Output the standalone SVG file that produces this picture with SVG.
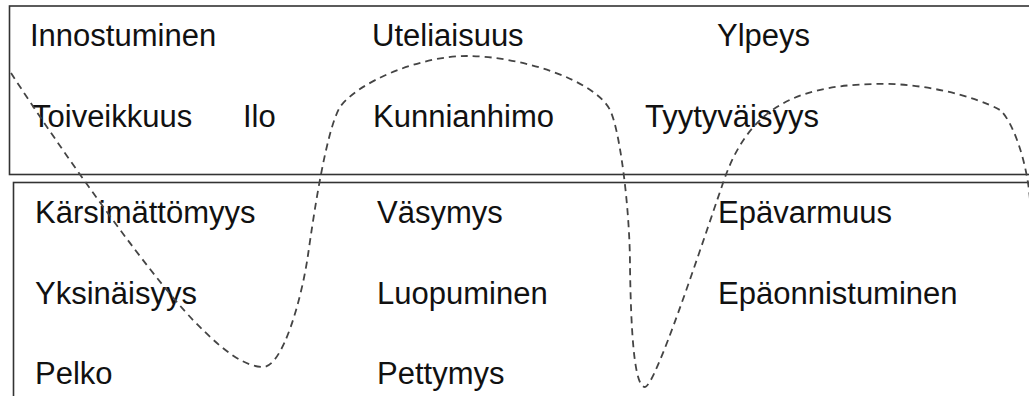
<svg xmlns="http://www.w3.org/2000/svg" width="1029" height="396" viewBox="0 0 1029 396">
  <style>
    .band { fill: none; stroke: #333; stroke-width: 1.6; }
    .label { font-family: "Liberation Sans", Arial, sans-serif; font-size: 31px; fill: #111; }
    .mood { fill: none; stroke: #444; stroke-width: 1.8; stroke-dasharray: 7 5; }
  </style>

  <!-- positive emotions band (upper) -->
  <g id="band-positive">
    <rect class="band" x="9.5" y="6" width="1030" height="168.5"/>
  </g>
  <!-- negative emotions band (lower) -->
  <g id="band-negative">
    <rect class="band" x="13.5" y="182.5" width="1030" height="220"/>
  </g>

  <!-- upper band labels -->
  <g id="innostuminen"><text class="label" x="30" y="46">Innostuminen</text></g>
  <g id="uteliaisuus"><text class="label" x="372" y="46">Uteliaisuus</text></g>
  <g id="ylpeys"><text class="label" x="717" y="46">Ylpeys</text></g>
  <g id="toiveikkuus"><text class="label" x="32" y="127">Toiveikkuus</text></g>
  <g id="ilo"><text class="label" x="243" y="127">Ilo</text></g>
  <g id="kunnianhimo"><text class="label" x="373" y="127">Kunnianhimo</text></g>
  <g id="tyytyvaisyys"><text class="label" x="645" y="127">Tyytyväisyys</text></g>

  <!-- lower band labels -->
  <g id="karsimattomyys"><text class="label" x="35" y="223">Kärsimättömyys</text></g>
  <g id="vasymys"><text class="label" x="377" y="223">Väsymys</text></g>
  <g id="epavarmuus"><text class="label" x="718" y="223">Epävarmuus</text></g>
  <g id="yksinaisyys"><text class="label" x="35" y="304">Yksinäisyys</text></g>
  <g id="luopuminen"><text class="label" x="377" y="304">Luopuminen</text></g>
  <g id="epaonnistuminen"><text class="label" x="718" y="304">Epäonnistuminen</text></g>
  <g id="pelko"><text class="label" x="35" y="384">Pelko</text></g>
  <g id="pettymys"><text class="label" x="377" y="384">Pettymys</text></g>

  <!-- emotional trajectory -->
  <g id="connectors">
    <path class="mood" d="M 11 73
      C 61 150, 158 288, 203 330
      C 223 350, 245 367, 263 367
      C 283 367, 302 297, 308 255
      C 314 213, 326 131, 340 107
      C 358 82, 420 56, 467 56
      C 520 56, 595 80, 610 110
      C 620 130, 630 210, 630 267
      C 631 330, 634 387, 645 387
      C 655 387, 700 250, 723 183
      C 747 112, 790 86, 873 84
      C 920 82, 975 96, 1000 110
      C 1012 120, 1027 160, 1030 200"/>
  </g>
</svg>
